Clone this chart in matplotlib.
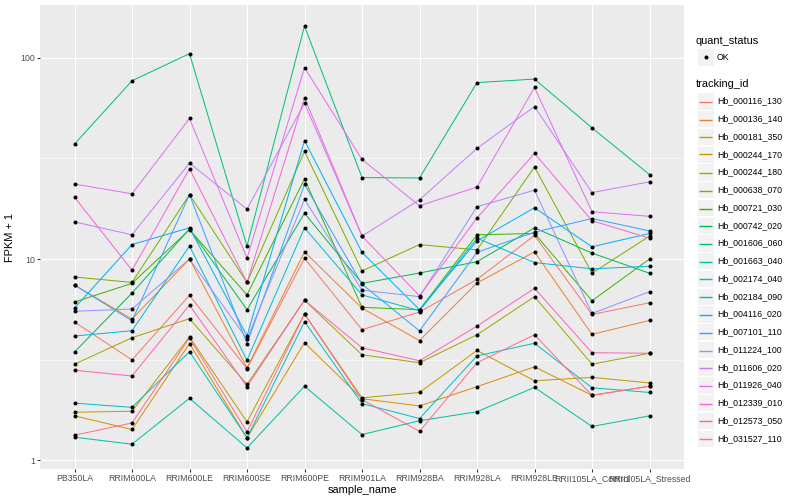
import numpy as np
import matplotlib
matplotlib.use("Agg")
import matplotlib.pyplot as plt
from matplotlib.patches import Rectangle
from matplotlib.lines import Line2D
from matplotlib.ticker import FixedLocator, NullFormatter

plt.rcParams['font.family'] = ['Liberation Sans', 'DejaVu Sans']

samples = ['PB350LA', 'RRIM600LA', 'RRIM600LE', 'RRIM600SE', 'RRIM600PE', 'RRIM901LA',
           'RRIM928BA', 'RRIM928LA', 'RRIM928LE', 'RRII105LA_Control', 'RRII105LA_Stressed']

tracking_ids = ['Hb_000116_130', 'Hb_000136_140', 'Hb_000181_350', 'Hb_000244_170',
                'Hb_000244_180', 'Hb_000638_070', 'Hb_000721_030', 'Hb_000742_020',
                'Hb_001606_060', 'Hb_001663_040', 'Hb_002174_040', 'Hb_002184_090',
                'Hb_004116_020', 'Hb_007101_110', 'Hb_011224_100', 'Hb_011606_020',
                'Hb_011926_040', 'Hb_012339_010', 'Hb_012573_050', 'Hb_031527_110']

# ggplot hue palette, 20 levels
colors = ['#F8766D', '#EA8331', '#D89000', '#C09B00', '#A3A500', '#7CAE00', '#39B600',
          '#00BB4E', '#00BF7D', '#00C1A3', '#00BFC4', '#00BAE0', '#00B0F6', '#35A2FF',
          '#9590FF', '#C77CFF', '#E76BF3', '#FA62DB', '#FF62BC', '#FF6C91']

# FPKM + 1 per sample
hb_000116_130 = [4.86, 3.15, 6.6, 2.85, 10.1, 4.45, 5.45, 7.92, 13.1, 5.3, 6.06]
hb_000136_140 = [7.42, 5.03, 10.0, 2.88, 10.85, 5.7, 3.93, 7.6, 10.85, 4.22, 4.95]
hb_000181_350 = [1.66, 1.42, 3.8, 1.29, 3.84, 2.02, 1.86, 2.32, 2.91, 2.1, 2.33]
hb_000244_170 = [1.73, 1.75, 4.1, 1.55, 5.33, 2.04, 2.17, 3.51, 2.48, 2.58, 2.42]
hb_000244_180 = [3.0, 4.06, 5.05, 2.38, 6.24, 3.34, 3.05, 4.2, 6.5, 3.0, 3.4]
hb_000638_070 = [8.14, 7.65, 20.9, 7.65, 34.3, 8.72, 11.8, 11.1, 28.7, 8.5, 13.0]
hb_000721_030 = [6.11, 7.57, 14.0, 6.63, 25.0, 5.75, 5.6, 13.2, 13.4, 6.2, 10.0]
hb_000742_020 = [3.45, 6.77, 14.1, 5.6, 16.9, 7.57, 8.52, 9.7, 14.3, 10.7, 8.5]
hb_001606_060 = [37.3, 77.0, 105.0, 11.6, 144.0, 25.4, 25.3, 75.4, 78.5, 44.9, 26.3]
hb_001663_040 = [1.30, 1.2, 2.03, 1.15, 2.33, 1.34, 1.57, 1.74, 2.3, 1.47, 1.66]
hb_002174_040 = [1.92, 1.83, 3.46, 1.29, 4.88, 1.91, 1.61, 3.3, 3.81, 2.29, 2.17]
hb_002184_090 = [4.14, 4.4, 11.6, 3.14, 14.3, 6.63, 5.53, 12.7, 9.6, 8.94, 9.2]
hb_004116_020 = [5.7, 11.8, 14.3, 4.15, 38.8, 10.8, 5.6, 12.3, 18.0, 11.5, 13.4]
hb_007101_110 = [7.42, 4.93, 20.9, 3.8, 23.5, 7.5, 4.39, 10.8, 13.6, 15.9, 13.8]
hb_011224_100 = [5.5, 5.64, 10.0, 4.0, 19.8, 7.0, 6.5, 18.2, 22.0, 5.36, 6.88]
hb_011606_020 = [15.3, 13.2, 30.0, 17.7, 59.6, 13.0, 19.7, 35.5, 57.3, 21.4, 24.2]
hb_011926_040 = [23.6, 21.1, 50.0, 10.1, 89.5, 31.3, 18.4, 22.8, 71.3, 17.2, 16.3]
hb_012339_010 = [20.3, 8.8, 28.1, 7.65, 63.5, 13.0, 6.56, 16.0, 33.5, 15.5, 12.7]
hb_012573_050 = [2.8, 2.62, 5.9, 2.32, 6.24, 3.62, 3.12, 4.64, 7.15, 3.42, 3.4]
hb_031527_110 = [1.33, 1.53, 4.05, 1.38, 5.33, 2.0, 1.39, 3.05, 4.2, 2.1, 2.33]

series = [hb_000116_130, hb_000136_140, hb_000181_350, hb_000244_170, hb_000244_180,
          hb_000638_070, hb_000721_030, hb_000742_020, hb_001606_060, hb_001663_040,
          hb_002174_040, hb_002184_090, hb_004116_020, hb_007101_110, hb_011224_100,
          hb_011606_020, hb_011926_040, hb_012339_010, hb_012573_050, hb_031527_110]

W, H = 800, 500
fig = plt.figure(figsize=(W / 72, H / 72), dpi=72)
ax = fig.add_axes([40 / W, 1 - 469 / H, 644 / W, 464 / H])
ax.set_facecolor('#EBEBEB')

x = np.arange(len(samples))
for vals, col in zip(series, colors):
    ax.plot(x, vals, color=col, lw=1.0, zorder=2)
for vals in series:
    ax.plot(x, vals, linestyle='none', marker='o', color='black', ms=3.0, zorder=3)

ax.set_yscale('log')
allv = np.log10(np.concatenate(series))
lo, hi = allv.min(), allv.max()
pad = 0.05 * (hi - lo)
ax.set_ylim(10 ** (lo - pad), 10 ** (hi + pad))
ax.set_xlim(-0.6, len(samples) - 0.4)

ax.yaxis.set_major_locator(FixedLocator([1, 10, 100]))
ax.set_yticklabels(['1', '10', '100'])
ax.yaxis.set_minor_locator(FixedLocator([10 ** 0.5, 10 ** 1.5]))
ax.yaxis.set_minor_formatter(NullFormatter())
ax.set_xticks(x)
ax.set_xticklabels(samples)

ax.grid(which='major', color='white', lw=1.07)
ax.grid(which='minor', axis='y', color='white', lw=0.55)
ax.set_axisbelow(True)
for s in ax.spines.values():
    s.set_visible(False)
ax.tick_params(which='major', length=2.75, width=1.07, color='#333333',
               labelcolor='#4D4D4D', labelsize=8.8, pad=2.2)
ax.tick_params(which='minor', length=0)
ax.set_xlabel('sample_name', fontsize=11, labelpad=2.5)
ax.set_ylabel('FPKM + 1', fontsize=11, labelpad=5)


def fx(px):
    return px / W


def fy(py):
    return 1 - py / H


# legend: quant_status
fig.text(fx(696), fy(41), 'quant_status', fontsize=11, va='center', ha='left')
key = 17.3
fig.patches.append(Rectangle((fx(697), fy(57 + key / 2)), key / W, key / H,
                             transform=fig.transFigure, facecolor='#F2F2F2',
                             edgecolor='white', lw=1, zorder=1))
fig.lines.append(Line2D([fx(697 + key / 2)], [fy(57)], marker='o', color='black',
                        ms=3.0, transform=fig.transFigure, zorder=3))
fig.text(fx(717), fy(57), 'OK', fontsize=8.8, va='center', ha='left')

# legend: tracking_id
fig.text(fx(696), fy(84), 'tracking_id', fontsize=11, va='center', ha='left')
step = 17.75
for i, (name, col) in enumerate(zip(tracking_ids, colors)):
    cy = 101 + i * step
    fig.patches.append(Rectangle((fx(697), fy(cy + key / 2)), key / W, key / H,
                                 transform=fig.transFigure, facecolor='#F2F2F2',
                                 edgecolor='white', lw=1, zorder=1))
    ly = round(cy) + 0.5
    fig.lines.append(Line2D([fx(699), fx(712)], [fy(ly), fy(ly)], color=col, lw=1.4,
                            solid_capstyle='butt', transform=fig.transFigure, zorder=3))
    fig.text(fx(717), fy(cy), name, fontsize=8.8, va='center', ha='left')

fig.savefig('out.png', dpi=72, facecolor='white')
